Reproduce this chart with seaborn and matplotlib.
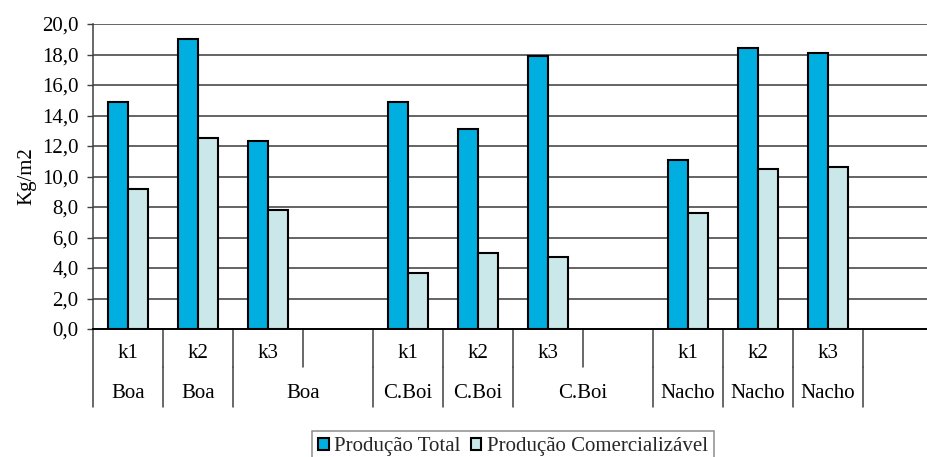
import matplotlib
matplotlib.use("Agg")
import matplotlib.pyplot as plt
import seaborn as sns
import pandas as pd
from matplotlib.patches import Patch

# Categories: three varieties, each with three treatments and a spacer slot
groups = ["Boa", "C.Boi", "Nacho"]
treatments = ["k1", "k2", "k3", ""]
series = ["Produção Total", "Produção Comercializável"]

# Yield (Kg/m2) per variety, per treatment k1..k3
total = {
    "Boa":   [14.9, 19.0, 12.3],
    "C.Boi": [14.9, 13.1, 17.9],
    "Nacho": [11.1, 18.4, 18.1],
}
commercial = {
    "Boa":   [9.2, 12.5, 7.8],
    "C.Boi": [3.7, 5.0, 4.7],
    "Nacho": [7.6, 10.5, 10.6],
}

# Lower-level (group) axis labels: (first slot, last slot exclusive, text)
group_spans = [
    (0, 1, "Boa"), (1, 2, "Boa"), (2, 4, "Boa"),
    (4, 5, "C.Boi"), (5, 6, "C.Boi"), (6, 8, "C.Boi"),
    (8, 9, "Nacho"), (9, 10, "Nacho"), (10, 11, "Nacho"), (11, 12, ""),
]

colors = ["#00AEDF", "#CAE7E9"]

rows = []
slots = []
slot_labels = []
for g in groups:
    for i, t in enumerate(treatments):
        slot = f"{g} {t}" if t else f"{g} _"
        slots.append(slot)
        slot_labels.append(t)
        if t:
            rows.append({"slot": slot, "serie": series[0], "valor": total[g][i]})
            rows.append({"slot": slot, "serie": series[1], "valor": commercial[g][i]})
df = pd.DataFrame(rows)

sns.set_theme(style="white")
FONT = ["Liberation Serif", "DejaVu Serif"]
FS = 15
plt.rcParams["font.family"] = FONT
plt.rcParams["font.size"] = FS

W, H = 927, 457
fig = plt.figure(figsize=(W / 100, H / 100), dpi=100)
ax = fig.add_axes([93 / W, 128 / H, 840 / W, 305 / H])

sns.barplot(
    data=df, x="slot", y="valor", hue="serie", order=slots, hue_order=series,
    palette=colors, width=0.57, gap=0, edgecolor="black", linewidth=1.5,
    errorbar=None, legend=False, ax=ax, zorder=3, saturation=1,
)

ax.set_xlim(-0.5, len(slots) - 0.5)
ax.set_ylim(0, 20)
ticks = list(range(0, 21, 2))
ax.set_yticks(ticks)
ax.set_yticklabels([f"{v:.1f}".replace(".", ",") for v in ticks],
                   fontsize=FS, color="black", family=FONT)
ax.tick_params(axis="y", direction="out", length=4.5, width=1, color="#404040",
               pad=6, left=True)
ax.set_xticks([])
ax.set_xlabel("")
ax.set_ylabel("Kg/m2", fontsize=FS, color="black", labelpad=4, family=FONT)

# Horizontal gridlines
for v in ticks[1:]:
    ax.axhline(v, color="#3a3a3a", lw=1.1, zorder=1)

for s in ["top", "right"]:
    ax.spines[s].set_visible(False)
ax.spines["left"].set_color("#404040")
ax.spines["bottom"].set_color("black")
ax.spines["left"].set_linewidth(1.1)
ax.spines["bottom"].set_linewidth(1.4)

# Two-level category axis drawn below the plot
tr = ax.get_xaxis_transform()
k_bottom = -38 / 305
g_bottom = -78 / 305
k_text_y = -24 / 305
g_text_y = -64 / 305
ax.plot([-0.5, -0.5], [0, g_bottom], transform=tr, color="#404040", lw=1.1,
        clip_on=False)
for i in range(1, len(slots) + 1):
    x = i - 0.5
    ax.plot([x, x], [0, k_bottom], transform=tr, color="#404040", lw=1.1,
            clip_on=False)
for a, b, lab in group_spans:
    ax.plot([b - 0.5, b - 0.5], [k_bottom, g_bottom], transform=tr,
            color="#404040", lw=1.1, clip_on=False)
    ax.text((a + b - 1) / 2, g_text_y, lab, transform=tr, ha="center",
            va="center", fontsize=FS, color="black", family=FONT)
for i, lab in enumerate(slot_labels):
    ax.text(i, k_text_y, lab, transform=tr, ha="center", va="center",
            fontsize=FS, color="black", family=FONT)

handles = [Patch(facecolor=c, edgecolor="black", linewidth=1.5) for c in colors]
leg = fig.legend(
    handles, series, loc="upper center", bbox_to_anchor=(513 / W, 1 - 431 / H),
    ncol=2, frameon=True, fancybox=False, shadow=False, borderaxespad=0,
    handlelength=0.5, handleheight=0.5, handletextpad=0.25, columnspacing=0.5,
    borderpad=0.3, prop={"family": FONT, "size": FS},
)
leg.get_frame().set_edgecolor("#707070")
leg.get_frame().set_linewidth(1.1)

fig.savefig("out.png", dpi=100)
